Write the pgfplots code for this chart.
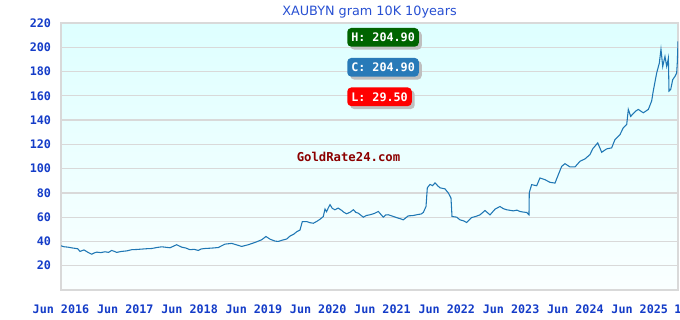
\documentclass[border=0pt]{standalone}
\usepackage{pgfplots}
\pgfplotsset{compat=1.18}
\usepackage{fontspec}
\setmainfont{DejaVu Sans}
\newfontfamily\monob{DejaVu Sans Mono}
\usetikzlibrary{shadows}
\definecolor{tickblue}{RGB}{20,60,200}
\definecolor{titleblue}{RGB}{40,80,210}
\definecolor{linecol}{RGB}{31,119,180}
\definecolor{hgreen}{RGB}{0,100,0}
\definecolor{cblue}{RGB}{40,122,184}
\definecolor{lred}{RGB}{255,0,0}
\definecolor{wmred}{RGB}{140,0,0}
\definecolor{topcyan}{RGB}{222,255,255}
\definecolor{botcyan}{RGB}{250,255,255}
\begin{document}
\begin{tikzpicture}[x=0.75pt,y=0.75pt]
\useasboundingbox (-61,-30) rectangle (619,290);
\begin{axis}[
  at={(0,0)}, anchor=south west,
  scale only axis, width=462.75pt, height=200.25pt,
  xmin=0, xmax=9.596, ymin=0, ymax=220,
  axis background/.style={shade, top color=topcyan, bottom color=botcyan},
  axis line style={draw=black!15, line width=1pt},
  ytick={20,40,...,220},
  xtick={0,1,...,9},
  xticklabels={Jun 2016,Jun 2017,Jun 2018,Jun 2019,Jun 2020,Jun 2021,Jun 2022,Jun 2023,Jun 2024,Jun 2025},
  extra x ticks={9.596}, extra x tick labels={1},
  extra x tick style={grid=none},
  major tick length=0pt,
  ymajorgrids, major grid style={draw=black!15, line width=0.9pt},
  tick label style={font=\monob\bfseries\fontsize{8.8}{10}\selectfont, text=tickblue},
  /pgf/number format/assume math mode=true,
  yticklabel style={xshift=-4pt},
  xticklabel style={yshift=-7.5pt},
  title={XAUBYN gram 10K 10years},
  title style={font=\fontsize{9.6}{11}\selectfont, text=titleblue, yshift=-5.75pt},
  clip=true,
]
\addplot[linecol, line width=0.8pt] coordinates {
(0.000,36.4)(0.050,35.6)(0.109,35.3)(0.180,34.6)(0.260,34.0)(0.295,31.8)(0.358,33.0)(0.420,31.0)(0.477,29.5)(0.520,30.6)(0.555,31.2)(0.620,30.8)(0.684,31.5)(0.740,31.0)(0.788,32.6)(0.830,31.8)(0.866,31.0)(0.944,31.8)(1.020,32.2)(1.100,33.2)(1.180,33.4)(1.255,33.7)(1.330,34.0)(1.411,34.2)(1.490,35.0)(1.566,35.6)(1.630,35.2)(1.695,34.8)(1.799,37.3)(1.877,35.3)(1.940,34.6)(2.006,33.2)(2.070,33.5)(2.135,32.6)(2.180,33.8)(2.239,34.2)(2.340,34.5)(2.446,35.0)(2.551,37.8)(2.655,38.4)(2.730,37.2)(2.810,35.9)(2.913,37.3)(3.017,39.2)(3.080,40.5)(3.121,41.4)(3.188,44.1)(3.250,41.9)(3.328,40.3)(3.379,40.0)(3.450,41.2)(3.510,42.0)(3.561,44.4)(3.620,46.0)(3.666,48.0)(3.717,49.4)(3.753,56.4)(3.821,56.4)(3.870,55.5)(3.924,55.0)(3.980,56.6)(4.028,58.3)(4.079,60.5)(4.106,66.7)(4.130,64.5)(4.160,68.0)(4.184,70.3)(4.220,67.2)(4.261,66.1)(4.310,67.5)(4.365,65.6)(4.400,64.0)(4.443,62.8)(4.500,64.2)(4.546,66.1)(4.585,64.0)(4.623,63.3)(4.701,60.0)(4.750,61.4)(4.806,62.0)(4.870,63.0)(4.935,64.7)(5.012,60.0)(5.050,61.8)(5.090,62.0)(5.168,60.6)(5.246,59.2)(5.290,58.5)(5.323,57.8)(5.401,61.1)(5.470,61.3)(5.532,62.0)(5.600,62.6)(5.635,63.9)(5.677,68.9)(5.697,84.2)(5.739,87.0)(5.780,86.0)(5.817,88.3)(5.860,85.8)(5.894,84.2)(5.972,83.3)(6.023,80.0)(6.065,75.8)(6.081,60.6)(6.154,60.0)(6.205,57.8)(6.260,57.0)(6.309,55.6)(6.350,57.8)(6.387,59.7)(6.450,60.6)(6.516,61.9)(6.594,65.5)(6.672,61.9)(6.750,66.6)(6.827,68.8)(6.880,67.0)(6.932,66.1)(7.034,65.2)(7.090,65.8)(7.138,64.7)(7.190,64.2)(7.243,63.9)(7.278,61.9)(7.283,80.4)(7.320,86.8)(7.398,85.9)(7.449,92.3)(7.527,90.9)(7.605,88.7)(7.683,88.1)(7.734,95.0)(7.787,101.9)(7.838,104.1)(7.916,101.4)(7.994,101.4)(8.072,106.1)(8.149,108.0)(8.227,111.6)(8.269,116.3)(8.347,121.2)(8.409,113.5)(8.487,116.3)(8.564,117.1)(8.616,124.0)(8.694,128.1)(8.745,133.7)(8.798,136.4)(8.823,148.8)(8.860,143.0)(8.901,145.5)(8.940,147.5)(8.978,148.8)(9.056,146.0)(9.134,148.8)(9.186,155.7)(9.211,164.0)(9.264,178.8)(9.305,186.9)(9.331,198.4)(9.358,184.2)(9.393,192.4)(9.420,184.2)(9.446,191.0)(9.456,163.8)(9.482,165.2)(9.513,173.3)(9.549,176.0)(9.575,178.8)(9.585,187.5)(9.596,204.9)
};
\node[anchor=west, fill=hgreen, text=white, rounded corners=3pt, inner xsep=3pt, minimum height=14pt,
  font=\monob\bfseries\fontsize{8.8}{10}\selectfont,
  drop shadow={shadow xshift=2.2pt, shadow yshift=-2.2pt, fill=black!25, opacity=1}]
  at (axis cs:4.448,208.2) {H: 204.90};
\node[anchor=west, fill=cblue, text=white, rounded corners=3pt, inner xsep=3pt, minimum height=14pt,
  font=\monob\bfseries\fontsize{8.8}{10}\selectfont,
  drop shadow={shadow xshift=2.2pt, shadow yshift=-2.2pt, fill=black!25, opacity=1}]
  at (axis cs:4.448,183.5) {C: 204.90};
\node[anchor=west, fill=lred, text=white, rounded corners=3pt, inner xsep=3pt, minimum height=14pt,
  font=\monob\bfseries\fontsize{8.8}{10}\selectfont,
  drop shadow={shadow xshift=2.2pt, shadow yshift=-2.2pt, fill=black!25, opacity=1}]
  at (axis cs:4.448,159.2) {L: 29.50};
\node[text=wmred, font=\monob\bfseries\fontsize{9.2}{10}\selectfont]
  at (axis cs:4.471,109.5) {GoldRate24.com};
\end{axis}
\end{tikzpicture}
\end{document}
